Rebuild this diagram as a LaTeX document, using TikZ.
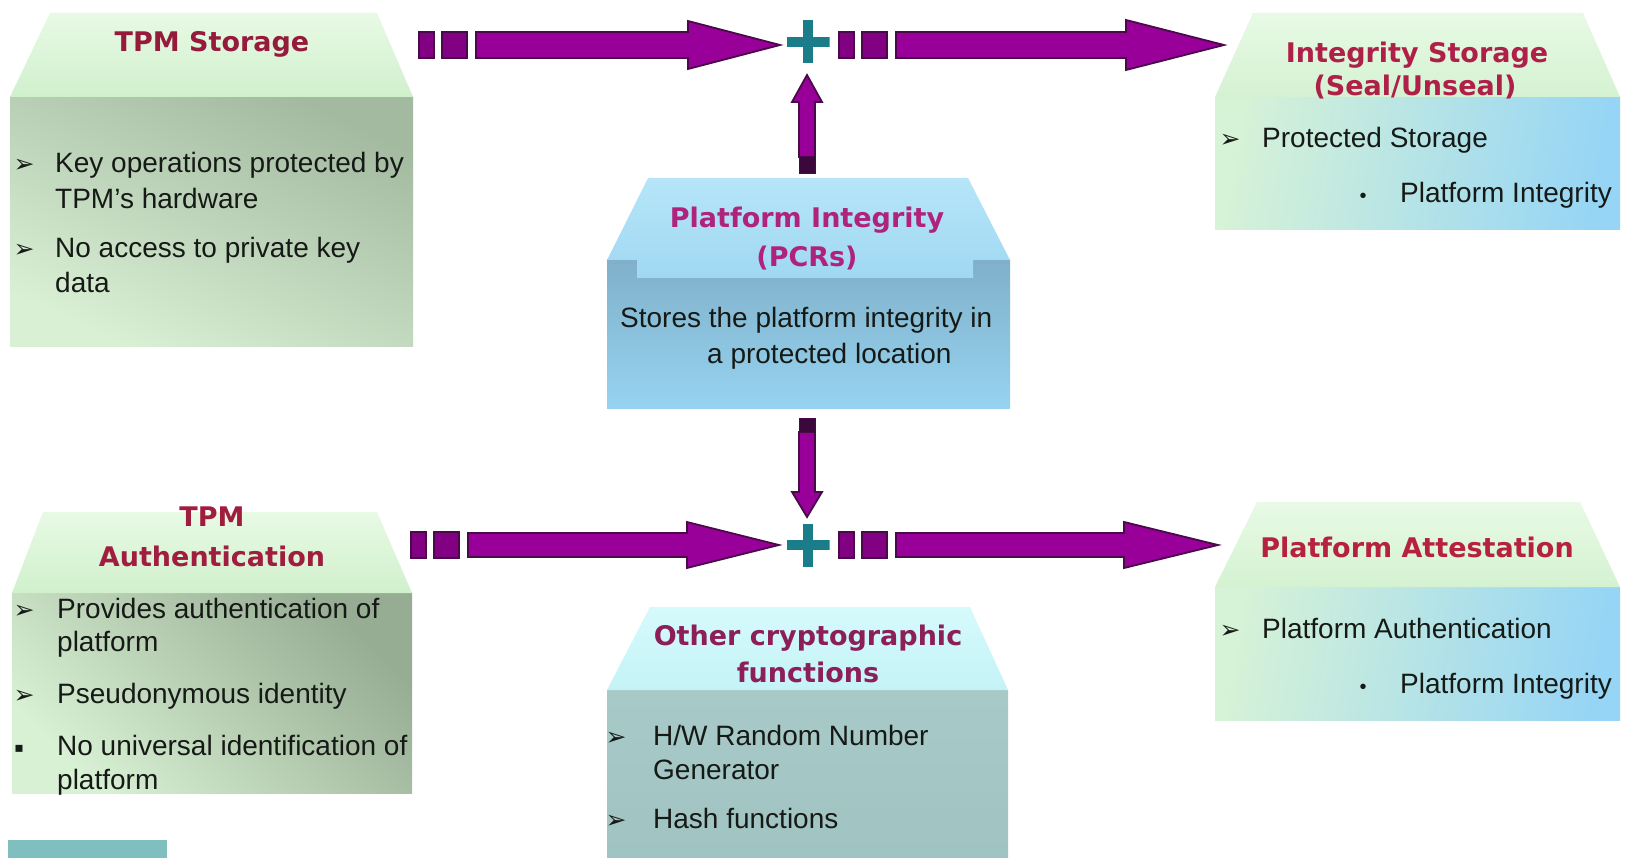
\documentclass[tikz,border=0pt]{standalone}
\usepackage{fontspec}
\setmainfont{Liberation Sans}
\newfontfamily\headfont{DejaVu Sans}
\newfontfamily\markfont{DejaVu Sans}
\usetikzlibrary{calc}

\definecolor{arrowfill}{HTML}{990099}
\definecolor{arrowedge}{HTML}{4A0A4A}
\definecolor{crosscol}{HTML}{1B7C8A}
\definecolor{bodyink}{HTML}{161A16}
\definecolor{tsred}{HTML}{961A3C}
\definecolor{tared}{HTML}{A01D40}
\definecolor{pimag}{HTML}{B0237C}
\definecolor{ocmag}{HTML}{8C1E58}
\definecolor{isred}{HTML}{AE2048}
\definecolor{pared}{HTML}{B5213F}
\definecolor{tealbar}{HTML}{80BFBF}

\newcommand\bodyfont{\fontsize{28}{35}\selectfont}
\newcommand\headfontsize{\headfont\bfseries\fontsize{27}{33}\selectfont}

% block arrow: tail, tip, head length, shaft half width, head half width
\newcommand\fatarrow[5]{%
  \coordinate (fa-base) at ($(#2)!#3!(#1)$);
  \filldraw[fatarrowstyle]
    ($(#1)!#4!90:(#2)$) -- ($(fa-base)!#4!90:(#2)$) -- ($(fa-base)!#5!90:(#2)$) -- (#2)
    -- ($(fa-base)!#5!-90:(#2)$) -- ($(fa-base)!#4!-90:(#2)$) -- ($(#1)!#4!-90:(#2)$) -- cycle;}
% two short blocks in front of a horizontal arrow tail
\newcommand\arrowtail[1]{%
  \filldraw[tailstyle] ($(#1)+(-57,-13)$) rectangle ($(#1)+(-42,13)$);
  \filldraw[tailstyle] ($(#1)+(-34,-13)$) rectangle ($(#1)+(-9,13)$);}

\tikzset{
  panel/.style={rectangle, inner sep=0pt, outer sep=0pt, draw=none},
  txt/.style={anchor=base west, inner sep=0pt, font=\bodyfont, text=bodyink},
  ttl/.style={anchor=base, inner sep=0pt, font=\headfontsize},
  arrowbullet/.style={anchor=base, inner sep=0pt, font=\markfont\fontsize{25}{25}\selectfont, text=bodyink},
  squarebullet/.style={anchor=base, inner sep=0pt, font=\markfont\fontsize{14}{14}\selectfont, text=bodyink},
  dotbullet/.style={anchor=base, inner sep=0pt, font=\fontsize{20}{20}\selectfont, text=bodyink},
  fatarrowstyle/.style={fill=arrowfill, draw=arrowedge, line width=1.8pt, line join=miter},
  tailstyle/.style={fill=arrowfill!85!black, draw=arrowedge, line width=1.8pt},
  darkend/.style={fill=arrowedge!80!black},
  crossmark/.style={minimum size=43pt, inner sep=0pt, outer sep=0pt,
    path picture={
      \fill[crosscol] ($(path picture bounding box.west)+(0,-5)$) rectangle ($(path picture bounding box.east)+(0,5)$);
      \fill[crosscol] ($(path picture bounding box.north)+(-5,0)$) rectangle ($(path picture bounding box.south)+(5,0)$);}},
}

\begin{document}
\begin{tikzpicture}[x=1pt,y=-1pt]
\useasboundingbox (0,0) rectangle (1630,858);
\fill[white] (0,0) rectangle (1630,858);

% ---------- TPM Storage ----------
\node[panel, minimum width=403pt, minimum height=250pt,
      top color={rgb,255:red,163;green,185;blue,160}, bottom color={rgb,255:red,218;green,240;blue,213},
      shading angle=-25] (tsbody) at (211.5,222) {};
\shade[top color={rgb,255:red,232;green,250;blue,229}, bottom color={rgb,255:red,208;green,240;blue,204}]
  (50,13) -- (377,13) -- (413,97) -- (10,97) -- cycle;
\node[ttl, text=tsred] (ts-title) at (212,52) {TPM Storage};
\node[arrowbullet] (ts-m1) at (24,173) {➢};
\node[txt] (ts-l1) at (55,173) {Key operations protected by};
\node[txt] (ts-l2) at (55,209) {TPM’s hardware};
\node[arrowbullet] (ts-m2) at (24,258) {➢};
\node[txt] (ts-l3) at (55,258) {No access to private key};
\node[txt] (ts-l4) at (55,293) {data};

% ---------- TPM Authentication ----------
\node[panel, minimum width=400pt, minimum height=200pt,
      top color={rgb,255:red,150;green,172;blue,147}, bottom color={rgb,255:red,216;green,240;blue,211},
      shading angle=-45] (tabody) at (212,693) {};
\shade[top color={rgb,255:red,232;green,250;blue,229}, bottom color={rgb,255:red,208;green,240;blue,204}]
  (43,512) -- (377,512) -- (412,593) -- (12,593) -- cycle;
\node[ttl, text=tared] (ta-title1) at (212,526) {TPM};
\node[ttl, text=tared] (ta-title2) at (212,566) {Authentication};
\node[arrowbullet] (ta-m1) at (24,618) {➢};
\node[txt] (ta-l1) at (57,618) {Provides authentication of};
\node[txt] (ta-l2) at (57,651) {platform};
\node[arrowbullet] (ta-m2) at (24,703) {➢};
\node[txt] (ta-l3) at (57,703) {Pseudonymous identity};
\node[squarebullet] (ta-m3) at (19,752) {▪};
\node[txt] (ta-l4) at (57,755) {No universal identification of};
\node[txt] (ta-l5) at (57,789) {platform};

% ---------- Platform Integrity (PCRs) ----------
\node[panel, minimum width=403pt, minimum height=148pt,
      top color={rgb,255:red,128;green,176;blue,202}, bottom color={rgb,255:red,150;green,211;blue,240}] (pibody) at (808.5,334) {};
\shade[top color={rgb,255:red,182;green,229;blue,249}, bottom color={rgb,255:red,160;green,216;blue,242}]
  (648,178) -- (968,178) -- (1010,260) -- (973,260) -- (973,278) -- (637,278) -- (637,260) -- (607,260) -- cycle;
\node[ttl, text=pimag] (pi-title1) at (807,228) {Platform Integrity};
\node[ttl, text=pimag] (pi-title2) at (807,267) {(PCRs)};
\node[txt] (pi-l1) at (620,328) {Stores the platform integrity in};
\node[txt] (pi-l2) at (707,364) {a protected location};

% ---------- Other cryptographic functions ----------
\node[panel, minimum width=401pt, minimum height=168pt,
      top color={rgb,255:red,168;green,201;blue,199}, bottom color={rgb,255:red,160;green,196;blue,194}] (ocbody) at (807.5,774) {};
\shade[top color={rgb,255:red,214;green,250;blue,252}, bottom color={rgb,255:red,196;green,243;blue,246}]
  (650,607) -- (970,607) -- (1008,690) -- (607,690) -- cycle;
\node[ttl, text=ocmag] (oc-title1) at (808,645) {Other cryptographic};
\node[ttl, text=ocmag] (oc-title2) at (808,682) {functions};
\node[arrowbullet] (oc-m1) at (616,745) {➢};
\node[txt] (oc-l1) at (653,745) {H/W Random Number};
\node[txt] (oc-l2) at (653,779) {Generator};
\node[arrowbullet] (oc-m2) at (616,828) {➢};
\node[txt] (oc-l3) at (653,828) {Hash functions};

% ---------- Integrity Storage (Seal/Unseal) ----------
\node[panel, minimum width=405pt, minimum height=133pt,
      left color={rgb,255:red,214;green,242;blue,215}, right color={rgb,255:red,150;green,213;blue,245},
      shading angle=80] (isbody) at (1417.5,163.5) {};
\shade[top color={rgb,255:red,232;green,250;blue,229}, bottom color={rgb,255:red,212;green,242;blue,210}]
  (1253,13) -- (1583,13) -- (1620,97) -- (1215,97) -- cycle;
\node[ttl, text=isred] (is-title1) at (1417,63) {Integrity Storage};
\node[ttl, text=isred] (is-title2) at (1415,96) {(Seal/Unseal)};
\node[arrowbullet] (is-m1) at (1230,148) {➢};
\node[txt] (is-l1) at (1262,148) {Protected Storage};
\node[dotbullet] (is-m2) at (1363,203) {•};
\node[txt] (is-l2) at (1400,203) {Platform Integrity};

% ---------- Platform Attestation ----------
\node[panel, minimum width=405pt, minimum height=133pt,
      left color={rgb,255:red,214;green,242;blue,215}, right color={rgb,255:red,150;green,213;blue,245},
      shading angle=80] (pabody) at (1417.5,653.5) {};
\shade[top color={rgb,255:red,232;green,250;blue,229}, bottom color={rgb,255:red,212;green,242;blue,210}]
  (1257,502) -- (1580,502) -- (1620,587) -- (1215,587) -- cycle;
\node[ttl, text=pared] (pa-title) at (1417,557) {Platform Attestation};
\node[arrowbullet] (pa-m1) at (1230,638) {➢};
\node[txt] (pa-l1) at (1262,638) {Platform Authentication};
\node[dotbullet] (pa-m2) at (1363,693) {•};
\node[txt] (pa-l2) at (1400,693) {Platform Integrity};

% ---------- small bar, bottom left ----------
\node[panel, fill=tealbar, minimum width=159pt, minimum height=18pt] (bar) at (87.5,849) {};

% ---------- junctions ----------
\node[crossmark] (plustop) at (808,42) {};
\node[crossmark] (plusbot) at (808,545) {};

% ---------- connectors ----------
\coordinate (a1s) at (476,45);   \coordinate (a1t) at (780,45);
\coordinate (a2s) at (896,45);   \coordinate (a2t) at (1224,45);
\coordinate (a3s) at (468,545);  \coordinate (a3t) at (779,545);
\coordinate (a4s) at (896,545);  \coordinate (a4t) at (1218,545);
\coordinate (a5s) at (807,157);  \coordinate (a5t) at (807,75);
\coordinate (a6s) at (807,432);  \coordinate (a6t) at (807,517);

\arrowtail{a1s} \fatarrow{a1s}{a1t}{92pt}{13pt}{24pt}
\arrowtail{a2s} \fatarrow{a2s}{a2t}{98pt}{13pt}{25pt}
\arrowtail{a3s} \fatarrow{a3s}{a3t}{92pt}{12pt}{23pt}
\arrowtail{a4s} \fatarrow{a4s}{a4t}{94pt}{12pt}{23pt}

\fatarrow{a5s}{a5t}{27pt}{8pt}{15pt}
\filldraw[darkend, draw=arrowedge, line width=1pt] ($(a5s)+(-8,0)$) rectangle ($(a5s)+(8,17)$);
\fatarrow{a6s}{a6t}{25pt}{8pt}{15pt}
\filldraw[darkend, draw=arrowedge, line width=1pt] ($(a6s)+(-8,-14)$) rectangle ($(a6s)+(8,0)$);
\end{tikzpicture}
\end{document}
